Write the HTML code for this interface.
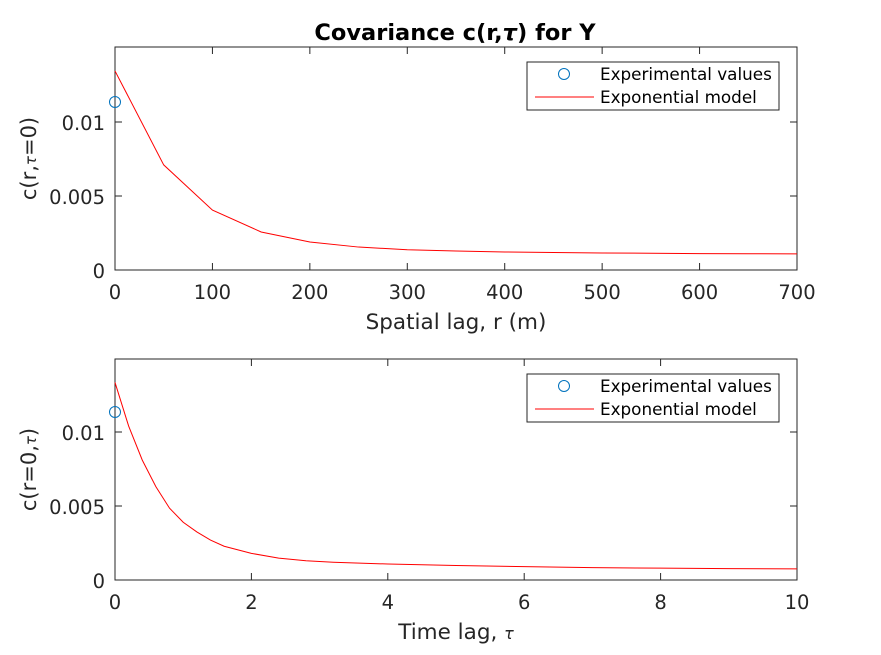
<!DOCTYPE html>
<html><head><meta charset="utf-8"><style>
body{margin:0;background:#fff;}
svg{display:block;font-family:"DejaVu Sans","Liberation Sans",sans-serif;}
</style></head><body>
<svg id="c" width="881" height="655"></svg>
<script>
const topLags=[0,50,100,150,200,250,300,350,400,450,500,550,600,650,700];
const topModel=[0.01345,0.0071,0.00405,0.00257,0.00189,0.00155,0.00137,0.00128,0.00122,0.00118,0.00115,0.00113,0.00111,0.0011,0.00109];
const topExpX=[0];
const topExpY=[0.01135];
const botLags=[0,0.2,0.4,0.6,0.8,1.0,1.2,1.4,1.6,2.0,2.4,2.8,3.2,4,5,6,7,8,9,10];
const botModel=[0.01335,0.0104,0.0081,0.0063,0.00485,0.0039,0.00325,0.0027,0.00228,0.0018,0.00148,0.0013,0.0012,0.00108,0.00098,0.0009,0.00084,0.0008,0.00077,0.00075];
const botExpX=[0];
const botExpY=[0.01135];
const topXTicks=[0,100,200,300,400,500,600,700];
const botXTicks=[0,2,4,6,8,10];
const yTicks=[0,0.005,0.01];
const yTickLabels=["0","0.005","0.01"];

const NS="http://www.w3.org/2000/svg";
const svg=document.getElementById('c');
function el(t,a,p){const e=document.createElementNS(NS,t);for(const k in a)e.setAttribute(k,a[k]);(p||svg).appendChild(e);return e;}
function txt(s,a,p){const e=el('text',a,p);e.textContent=s;return e;}

function panel(name,L,R,T,B,xmax,xs,ys,ex,ey,xticks,xlabel,ylabel){
  const g=el('g',{});
  
  
  const ymax=(B-T)/14800;
  const X=v=>L+v/xmax*(R-L);
  const Y=v=>B-v/ymax*(B-T);
  el('rect',{x:L,y:T,width:R-L,height:B-T,fill:'#fff',stroke:'#262626','stroke-width':1},g);
  xticks.forEach(t=>{
    const x=X(t);
    el('line',{x1:x,y1:B,x2:x,y2:B-7,stroke:'#262626'},g);
    el('line',{x1:x,y1:T,x2:x,y2:T+7,stroke:'#262626'},g);
    const lb=txt(String(t),{x:x,y:B+29,'text-anchor':'middle','font-size':19.5,fill:'#262626'},g);
    
    
  });
  yTicks.forEach((t,i)=>{
    const y=Y(t);
    el('line',{x1:L,y1:y,x2:L+7,y2:y,stroke:'#262626'},g);
    el('line',{x1:R,y1:y,x2:R-7,y2:y,stroke:'#262626'},g);
    const lb=txt(yTickLabels[i],{x:L-10,y:y+8,'text-anchor':'end','font-size':19.5,fill:'#262626'},g);
    
    
  });
  const pl=el('polyline',{points:xs.map((v,i)=>X(v)+','+Y(ys[i])).join(' '),fill:'none',stroke:'#ff0000','stroke-width':1},g);
  
  
  ex.forEach((v,i)=>{
    const c=el('circle',{cx:X(v),cy:Y(ey[i]),r:5.5,fill:'none',stroke:'#0072bd','stroke-width':1},g);
    
    
  });
  const xl=txt('',{x:(L+R)/2,y:B+59,'text-anchor':'middle','font-size':21.5,fill:'#262626'},g);
  xl.innerHTML=xlabel;
  
  
  const yl=txt('',{x:0,y:0,'text-anchor':'middle','font-size':21,fill:'#262626',transform:`translate(${L-79},${(T+B)/2}) rotate(-90)`},g);
  yl.innerHTML=ylabel;
  
  
  const lg=el('g',{},g);
  
  
  el('rect',{x:527,y:T+15,width:252,height:48,fill:'#fff',stroke:'#262626','stroke-width':1},lg);
  el('circle',{cx:564,cy:T+27,r:5.5,fill:'none',stroke:'#0072bd'},lg);
  const e1=txt('Experimental values',{x:600,y:T+33,'font-size':16.8,fill:'#000'},lg);
  
  
  el('line',{x1:535,y1:T+50,x2:594,y2:T+50,stroke:'#ff0000'},lg);
  const e2=txt('Exponential model',{x:600,y:T+56,'font-size':16.8,fill:'#000'},lg);
  
  
}
const title=txt('',{x:455,y:40,'text-anchor':'middle','font-size':22.5,'font-weight':'bold',fill:'#000'});
title.innerHTML='Covariance c(r,<tspan font-style="italic">τ</tspan>) for Y';


panel('spatial-panel',115,797,47,270,700,topLags,topModel,topExpX,topExpY,topXTicks,'Spatial lag, r (m)','c(r,<tspan font-style="italic" font-size="15">τ</tspan>=0)');
panel('temporal-panel',115,797,359,580,10,botLags,botModel,botExpX,botExpY,botXTicks,'Time lag, <tspan font-style="italic" font-size="16">τ</tspan>','c(r=0,<tspan font-style="italic" font-size="15">τ</tspan>)');
</script>
</body></html>
